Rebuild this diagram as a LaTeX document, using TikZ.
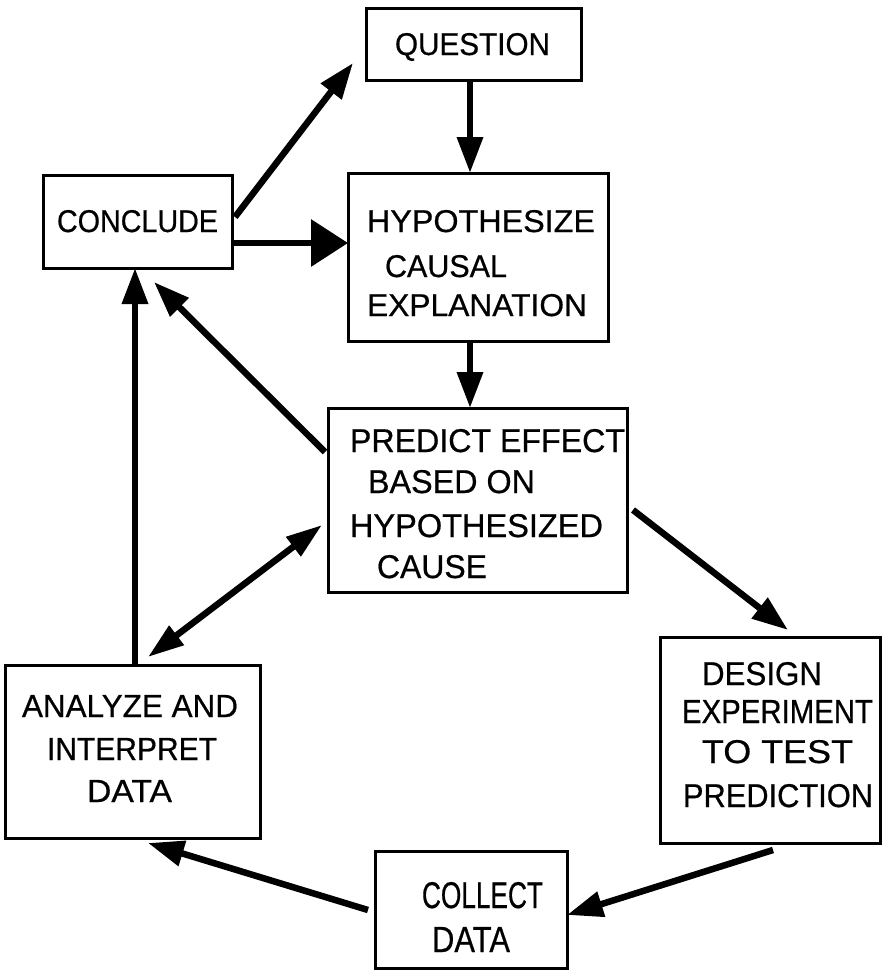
\documentclass[tikz,border=0pt]{standalone}
\usepackage{fontspec}
\setmainfont{Liberation Sans}[FakeBold=0.6]
\usepackage{graphicx}
\usetikzlibrary{arrows.meta}

% one line of capitals, set to a given width and cap height
\newcommand\capline[3]{\resizebox{#1pt}{#2pt}{\fontsize{30}{36}\selectfont #3}}

\begin{document}
\begin{tikzpicture}[x=1pt,y=-1pt,
  box/.style={draw, line width=3pt, inner sep=0pt, outer sep=0pt},
  lbl/.style={anchor=base west, inner sep=0pt, outer sep=0pt},
  arr/.style={line width=6.5pt, -{Triangle[length=36pt,width=25pt]}},
  bigarr/.style={line width=6.5pt, -{Triangle[length=37pt,width=46pt]}},
  dblarr/.style={line width=6.5pt, {Triangle[length=36pt,width=23pt]}-{Triangle[length=36pt,width=23pt]}}]

\useasboundingbox (0,0) rectangle (885,972);

% boxes
\node[box, minimum width=215pt, minimum height=72pt]  (q) at (473.5,44) {};
\node[box, minimum width=189pt, minimum height=93pt]  (c) at (137.5,221.5) {};
\node[box, minimum width=260pt, minimum height=168pt] (h) at (478,257) {};
\node[box, minimum width=299pt, minimum height=184pt] (p) at (477.5,500) {};
\node[box, minimum width=220pt, minimum height=206pt] (d) at (770,740) {};
\node[box, minimum width=255pt, minimum height=173pt] (a) at (132.5,751.5) {};
\node[box, minimum width=192pt, minimum height=117pt] (k) at (471,909.5) {};

% box texts
\node[lbl] (tq)  at (395,55)  {\capline{155}{22}{QUESTION}};
\node[lbl] (tc)  at (57,232)  {\capline{161}{22}{CONCLUDE}};

\node[lbl] (th1) at (367,232) {\capline{228}{22}{HYPOTHESIZE}};
\node[lbl] (th2) at (385,277) {\capline{122}{22}{CAUSAL}};
\node[lbl] (th3) at (367,316) {\capline{220}{22}{EXPLANATION}};

\node[lbl] (tp1) at (350,452) {\capline{275}{23}{PREDICT EFFECT}};
\node[lbl] (tp2) at (368,493) {\capline{167}{23}{BASED ON}};
\node[lbl] (tp3) at (350,537) {\capline{253}{23}{HYPOTHESIZED}};
\node[lbl] (tp4) at (377,578) {\capline{110}{23}{CAUSE}};

\node[lbl] (td1) at (702,685) {\capline{120}{23}{DESIGN}};
\node[lbl] (td2) at (682,723) {\capline{191}{23}{EXPERIMENT}};
\node[lbl] (td3) at (702,763) {\capline{151}{23}{TO TEST}};
\node[lbl] (td4) at (683,807) {\capline{190}{23}{PREDICTION}};

\node[lbl] (ta1) at (22,717)  {\capline{216}{22}{ANALYZE AND}};
\node[lbl] (ta2) at (47,760)  {\capline{170}{22}{INTERPRET}};
\node[lbl] (ta3) at (87,802)  {\capline{85}{22}{DATA}};

\node[lbl] (tk1) at (422,908) {\capline{121}{26}{COLLECT}};
\node[lbl] (tk2) at (432,952) {\capline{78}{25}{DATA}};

% connectors
\draw[arr] ([xshift=-3.5pt]q.south) -- ([xshift=-3.5pt]q.south |- h.north);
\draw[arr] ([xshift=-8pt]h.south) -- ([xshift=-8pt]h.south |- p.north);
\draw[bigarr] ([yshift=-21.5pt]c.east) -- ([yshift=-21.5pt]c.east -| h.west);
\draw[arr] ([xshift=3pt,yshift=4.5pt]c.east) -- ([xshift=-13pt,yshift=-19pt]q.west);
\draw[arr] ([xshift=2.5pt]a.north) -- ([xshift=2.5pt]a.north |- c.south);
\draw[arr] ([xshift=-3pt,yshift=-44pt]p.north west) -- ([xshift=16.5pt,yshift=-14pt]c.south);
\draw[dblarr] ([xshift=15.5pt,yshift=8pt]a.north) -- ([xshift=-6pt,yshift=-25pt]p.west);
\draw[arr] ([xshift=6pt,yshift=-10pt]p.east) -- ([xshift=18pt,yshift=7pt]d.north);
\draw[arr] ([xshift=3pt,yshift=-7pt]d.south) -- ([yshift=-5.5pt]k.east);
\draw[arr] ([xshift=-7pt,yshift=-0.5pt]k.west) -- ([xshift=15.5pt,yshift=-5pt]a.south);

\end{tikzpicture}
\end{document}
